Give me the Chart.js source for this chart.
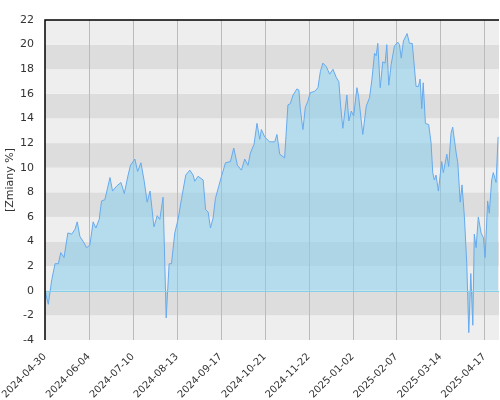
<!DOCTYPE html>
<html><head><meta charset="utf-8">
<script src="https://cdn.jsdelivr.net/npm/chart.js@4"></script>
<style>html,body{margin:0;padding:0;background:#fff}#w{width:500px;height:400px}</style>
</head><body><div id="w"><canvas id="c"></canvas></div>
<script>
const tickLabels=["2024-04-30","2024-06-04","2024-07-10","2024-08-13","2024-09-17","2024-10-21","2024-11-22","2025-01-02","2025-02-07","2025-03-14","2025-04-17"];
const days=[0,1.8,3.7,5.5,7.3,8.6,10.4,12.5,14.6,16.4,17.6,19.1,20.9,22.7,24.5,26.3,27.8,29.6,30.9,32.7,35.5,36.9,39.1,41.5,43.3,45.4,46.7,49.1,50.6,52.4,54.2,55.8,57.4,59.5,61.3,62.7,64.5,66.2,67.8,69.1,70.9,72.7,74.6,76.9,79.1,80.9,81.8,83.6,86.4,87.7,89.1,90.4,91.8,93.1,96.4,98.6,101.3,103.1,105.1,107.3,109.1,110.9,112.2,114.2,115.8,117.3,118.2,120.0,122.7,125.5,126.7,128.2,130.9,132.7,134.0,135.5,137.6,138.7,139.5,140.9,142.2,143.6,144.9,147.3,149.1,150.4,151.8,153.7,155.5,157.3,159.2,160.5,161.5,162.7,164.9,166.0,167.3,168.6,170.4,171.3,173.6,175.5,177.3,178.6,180.0,180.9,181.8,183.1,184.5,185.8,186.7,187.8,189.1,190.9,192.7,193.6,194.6,195.8,197.8,199.1,200.6,201.4,202.7,204.0,204.9,205.8,206.6,207.8,209.6,210.9,211.8,212.7,213.6,214.9,216.7,217.6,219.5,220.5,221.8,222.7,224.6,225.5,226.8,227.8,229.1,230.4,231.5,232.6,233.7,234.5,235.5,236.7,238.2,239.5,240.4,241.8,242.7,244.0,244.9,246.4,247.5];
const changes=[0,-1.1,0.9,2.2,2.2,3.1,2.7,4.7,4.6,5.0,5.6,4.4,4.0,3.5,3.7,5.6,5.1,5.8,7.3,7.4,9.2,8.1,8.5,8.8,7.9,9.4,10.2,10.7,9.7,10.4,8.9,7.2,8.1,5.2,6.1,5.8,7.6,-2.2,2.2,2.2,4.7,5.8,7.5,9.4,9.8,9.4,8.9,9.3,9.0,6.6,6.4,5.1,5.9,7.5,9.3,10.4,10.5,11.6,10.2,9.8,10.7,10.2,11.2,11.9,13.6,12.3,13.1,12.5,12.1,12.1,12.7,11.1,10.8,15.1,15.2,15.9,16.4,16.3,14.7,13.1,14.9,15.4,16.1,16.2,16.5,17.8,18.5,18.2,17.6,18.0,17.3,17.0,15.0,13.2,15.9,13.8,14.6,14.2,16.5,15.8,12.7,15.0,15.7,17.2,19.3,19.1,20.1,16.5,18.6,18.5,20.0,16.7,18.4,19.9,20.2,20.0,18.9,20.3,20.9,20.1,20.1,18.8,16.6,16.6,17.2,14.8,16.9,13.6,13.5,12.0,9.6,9.0,9.4,8.1,10.5,9.6,11.1,10.1,12.8,13.3,11.2,10.4,7.2,8.6,6.0,2.2,-3.4,1.4,-2.8,4.6,3.5,6.0,4.7,4.3,2.7,7.3,6.3,9.0,9.6,8.8,12.5];
const pts=days.map((d,i)=>({x:d,y:changes[i]}));
const bands={id:'bands',beforeDatasetsDraw(ch){const {ctx,chartArea:a,scales:{y,x}}=ch;ctx.save();
for(let v=-4;v<22;v+=2){const t=y.getPixelForValue(v+2),b=y.getPixelForValue(v);ctx.fillStyle=(Math.abs(v/2)%2===1)?'#dddddd':'#eeeeee';ctx.fillRect(a.left,t,a.right-a.left,b-t);}
ctx.strokeStyle='#bbbbbb';ctx.lineWidth=1;for(let i=24;i<=240;i+=24){const px=Math.round(x.getPixelForValue(i))+0.5;ctx.beginPath();ctx.moveTo(px,a.top);ctx.lineTo(px,a.bottom);ctx.stroke();}
ctx.restore();},
afterDatasetsDraw(ch){const {ctx,chartArea:a,scales:{y}}=ch;ctx.save();const z=Math.round(y.getPixelForValue(0))+0.5;ctx.strokeStyle='#87ceeb';ctx.beginPath();ctx.moveTo(a.left,z);ctx.lineTo(a.right,z);ctx.stroke();
ctx.strokeStyle='#000';ctx.lineWidth=1.5;ctx.beginPath();ctx.moveTo(a.left,a.bottom);ctx.lineTo(a.left,a.top);ctx.lineTo(a.right,a.top);ctx.stroke();ctx.restore();}};
new Chart(document.getElementById('c'),{type:'line',data:{datasets:[{data:pts,borderColor:'#66aaee',borderWidth:1,backgroundColor:'rgba(135,206,235,0.55)',fill:'origin',pointRadius:0,tension:0}]},
options:{responsive:true,maintainAspectRatio:false,animation:false,layout:{padding:{top:20,right:1,left:0,bottom:0}},
plugins:{legend:{display:false},tooltip:{enabled:false}},
scales:{x:{type:'linear',min:0,max:248,afterFit(s){s.height=60;},grid:{display:false},border:{display:false},
afterBuildTicks(s){s.ticks=tickLabels.map((_,i)=>({value:i*24}));},
ticks:{autoSkip:false,maxRotation:45,minRotation:45,color:'#333',font:{family:'DejaVu Sans',size:10},callback:(v)=>tickLabels[Math.round(v/24)]}},
y:{min:-4,max:22,afterFit(s){s.width=45;},grid:{display:false},border:{display:false},ticks:{stepSize:2,color:'#333',font:{family:'DejaVu Sans',size:11}},
title:{display:true,text:'[Zmiany %]',color:'#333',font:{family:'DejaVu Sans',size:11}}}}},plugins:[bands]});
</script></body></html>
